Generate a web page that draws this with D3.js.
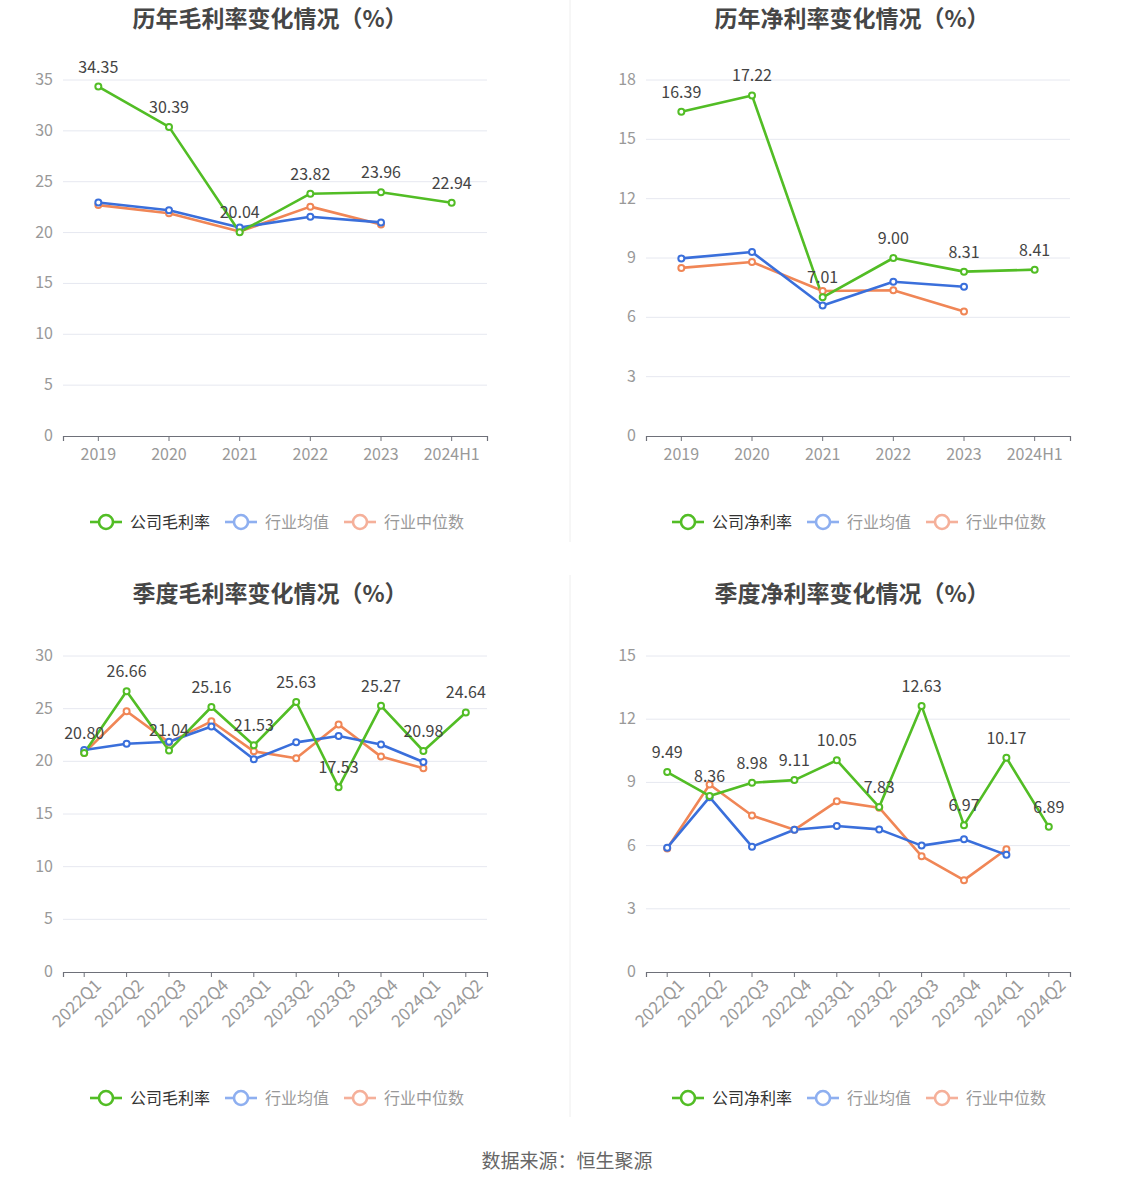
<!DOCTYPE html>
<html>
<head>
<meta charset="utf-8">
<script src="https://cdn.jsdelivr.net/npm/d3@7"></script>
<style>
  body { margin: 0; background: #fff; }
  svg { display: block; font-family: "Noto Sans CJK SC", "Noto Sans", sans-serif; }
</style>
</head>
<body>
<div id="chart"></div>
<script>
// Categories
const years = ['2019', '2020', '2021', '2022', '2023', '2024H1'];
const quarters = ['2022Q1', '2022Q2', '2022Q3', '2022Q4', '2023Q1', '2023Q2', '2023Q3', '2023Q4', '2024Q1', '2024Q2'];

// Annual gross margin
const grossYearCompany = [34.35, 30.39, 20.04, 23.82, 23.96, 22.94];
const grossYearAvg = [22.95, 22.2, 20.5, 21.55, 21.0];
const grossYearMedian = [22.7, 21.9, 20.1, 22.55, 20.8];

// Annual net margin
const netYearCompany = [16.39, 17.22, 7.01, 9.00, 8.31, 8.41];
const netYearAvg = [8.98, 9.3, 6.6, 7.8, 7.55];
const netYearMedian = [8.5, 8.8, 7.33, 7.37, 6.3];

// Quarterly gross margin
const grossQCompany = [20.80, 26.66, 21.04, 25.16, 21.53, 25.63, 17.53, 25.27, 20.98, 24.64];
const grossQAvg = [21.07, 21.67, 21.86, 23.3, 20.2, 21.8, 22.4, 21.6, 19.94];
const grossQMedian = [20.8, 24.75, 21.8, 23.8, 20.95, 20.3, 23.5, 20.45, 19.34];

// Quarterly net margin
const netQCompany = [9.49, 8.36, 8.98, 9.11, 10.05, 7.83, 12.63, 6.97, 10.17, 6.89];
const netQAvg = [5.9, 8.3, 5.95, 6.75, 6.93, 6.77, 6.0, 6.3, 5.56];
const netQMedian = [5.86, 8.9, 7.43, 6.75, 8.1, 7.8, 5.5, 4.36, 5.83];

// Ticks
const ticksGrossYear = [0, 5, 10, 15, 20, 25, 30, 35];
const ticksNetYear = [0, 3, 6, 9, 12, 15, 18];
const ticksGrossQ = [0, 5, 10, 15, 20, 25, 30];
const ticksNetQ = [0, 3, 6, 9, 12, 15];

const green = '#52bd25';
const blue = '#3a6fdb';
const orange = '#f08656';
const fontStack = '"Noto Sans CJK SC", "Noto Sans", sans-serif';

let svg = d3.select('#chart').append('svg')
  .attr('width', 1134)
  .attr('height', 1188);

// Panel dividers
svg.append('line').attr('x1', 570).attr('x2', 570).attr('y1', 0).attr('y2', 542)
  .attr('stroke', '#eeeeee').attr('stroke-width', 1);
svg.append('line').attr('x1', 570).attr('x2', 570).attr('y1', 575).attr('y2', 1117)
  .attr('stroke', '#eeeeee').attr('stroke-width', 1);

// Footer
svg.append('text')
  .attr('x', 567).attr('y', 1168)
  .attr('text-anchor', 'middle')
  .attr('font-size', 19)
  .attr('fill', '#666')
  .text('数据来源：恒生聚源');

function drawPanel(p) {
  let g = svg.append('g');

  g.append('text')
    .attr('x', p.titleX).attr('y', p.titleY)
    .attr('text-anchor', 'middle')
    .attr('font-size', 23)
    .attr('font-weight', 'bold')
    .attr('fill', '#464646')
    .text(p.title);

  let x = d3.scaleBand().domain(p.cats).range([p.left, p.right]);
  let y = d3.scaleLinear().domain([0, d3.max(p.ticks)]).range([p.bottom, p.top]);
  let cx = (d, i) => x(p.cats[i]) + x.bandwidth() / 2;

  // Grid
  g.selectAll('line.grid')
    .data(p.ticks.filter(t => t > 0))
    .enter().append('line')
    .attr('x1', p.left).attr('x2', p.right)
    .attr('y1', d => y(d)).attr('y2', d => y(d))
    .attr('stroke', '#e6e8f0').attr('stroke-width', 1);

  // Y labels
  g.selectAll('text.ytick')
    .data(p.ticks)
    .enter().append('text')
    .attr('x', p.left - 10).attr('y', d => y(d) + 5)
    .attr('text-anchor', 'end')
    .attr('font-size', 16)
    .attr('fill', '#999')
    .text(d => d);

  // X axis
  let xAxis = g.append('g')
    .attr('transform', `translate(0,${p.bottom})`)
    .call(d3.axisBottom(x).tickSizeOuter(0).tickSize(5).tickPadding(8));
  xAxis.select('.domain').attr('stroke', '#6e7079').attr('stroke-width', 1.2);
  xAxis.selectAll('.tick line').attr('stroke', '#6e7079');
  xAxis.selectAll('.tick text')
    .attr('font-size', 16)
    .attr('fill', '#999')
    .attr('font-family', fontStack);
  if (p.rotate) {
    xAxis.selectAll('.tick text')
      .attr('font-size', 17)
      .attr('text-anchor', 'end')
      .attr('transform', 'translate(2,-2) rotate(-44)')
      .attr('dy', '0.6em');
  }

  let line = d3.line().x(cx).y(d => y(d));

  const series = [
    { data: p.median, color: orange },
    { data: p.avg, color: blue },
    { data: p.company, color: green }
  ];

  series.forEach(s => {
    g.append('path')
      .datum(s.data)
      .attr('d', line)
      .attr('fill', 'none')
      .attr('stroke', s.color)
      .attr('stroke-width', 2.6)
      .attr('stroke-linejoin', 'round');
  });
  series.forEach(s => {
    g.selectAll(null)
      .data(s.data)
      .enter().append('circle')
      .attr('cx', cx)
      .attr('cy', d => y(d))
      .attr('r', 3)
      .attr('fill', '#fff')
      .attr('stroke', s.color)
      .attr('stroke-width', 2);
  });

  // Value labels
  g.selectAll('text.val')
    .data(p.company)
    .enter().append('text')
    .attr('x', cx)
    .attr('y', d => y(d) - 14)
    .attr('text-anchor', 'middle')
    .attr('font-size', 16)
    .attr('fill', '#444')
    .text(d => d.toFixed(2));

  // Legend
  const items = [
    { name: p.legendName, color: green, text: '#333', w: 80 },
    { name: '行业均值', color: '#8eaff0', text: '#999', w: 64 },
    { name: '行业中位数', color: '#f5b09a', text: '#999', w: 80 }
  ];
  let lx = p.legendX;
  items.forEach(it => {
    let li = g.append('g').attr('transform', `translate(${lx},${p.legendY})`);
    li.append('line').attr('x1', 0).attr('x2', 32).attr('y1', 0).attr('y2', 0)
      .attr('stroke', it.color).attr('stroke-width', 2.6);
    li.append('circle').attr('cx', 16).attr('cy', 0).attr('r', 7)
      .attr('fill', '#fff').attr('stroke', it.color).attr('stroke-width', 2.6);
    li.append('text').attr('x', 40).attr('y', 6)
      .attr('font-size', 16).attr('fill', it.text).text(it.name);
    lx += 40 + it.w + 15;
  });
}

drawPanel({
  title: '历年毛利率变化情况（%）', titleX: 270, titleY: 27,
  cats: years, ticks: ticksGrossYear,
  company: grossYearCompany, avg: grossYearAvg, median: grossYearMedian,
  left: 63, right: 487, top: 80, bottom: 436,
  legendName: '公司毛利率', legendX: 90, legendY: 522
});

drawPanel({
  title: '历年净利率变化情况（%）', titleX: 852, titleY: 27,
  cats: years, ticks: ticksNetYear,
  company: netYearCompany, avg: netYearAvg, median: netYearMedian,
  left: 646, right: 1070, top: 80, bottom: 436,
  legendName: '公司净利率', legendX: 672, legendY: 522
});

drawPanel({
  title: '季度毛利率变化情况（%）', titleX: 270, titleY: 602,
  cats: quarters, ticks: ticksGrossQ, rotate: true,
  company: grossQCompany, avg: grossQAvg, median: grossQMedian,
  left: 63, right: 487, top: 656, bottom: 972,
  legendName: '公司毛利率', legendX: 90, legendY: 1098
});

drawPanel({
  title: '季度净利率变化情况（%）', titleX: 852, titleY: 602,
  cats: quarters, ticks: ticksNetQ, rotate: true,
  company: netQCompany, avg: netQAvg, median: netQMedian,
  left: 646, right: 1070, top: 656, bottom: 972,
  legendName: '公司净利率', legendX: 672, legendY: 1098
});
</script>
</body>
</html>
